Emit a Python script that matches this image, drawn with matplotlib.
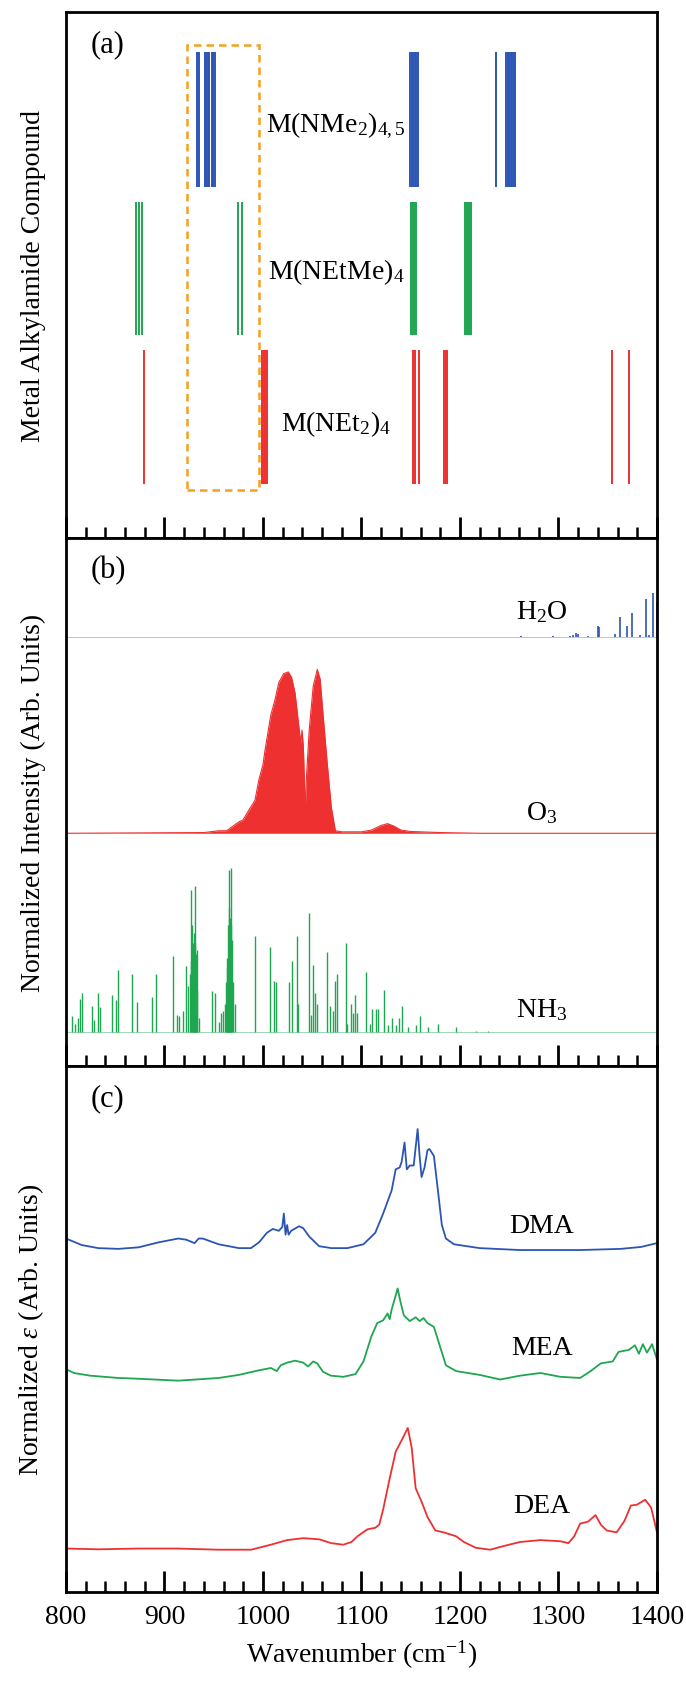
import matplotlib
matplotlib.use('Agg')
import matplotlib.pyplot as plt
from matplotlib.patches import Rectangle
from matplotlib.ticker import MultipleLocator

plt.rcParams['font.family'] = ['Liberation Serif', 'DejaVu Serif']
plt.rcParams['mathtext.fontset'] = 'custom'
plt.rcParams['mathtext.rm'] = 'Liberation Serif'
plt.rcParams['mathtext.it'] = 'Liberation Serif:italic'
plt.rcParams['mathtext.bf'] = 'Liberation Serif:bold'

BLUE = '#2c55b3'
GREEN = '#1fa650'
RED = '#ee3030'
ORANGE = '#f5a020'

# (a) calculated mode positions, cm-1
nme2_modes = [932.5, 935, 941, 942.5, 944, 945.5, 948, 949.5, 951,
              1149.5, 1151, 1152.5, 1154, 1155.5, 1157,
              1236.7, 1247, 1248.5, 1250, 1251.5, 1253, 1254.5, 1256]
netme_modes = [871.5, 874, 877, 974.5, 978.5,
               1150.5, 1152, 1153.5, 1155,
               1205.5, 1207, 1208.5, 1210, 1211.5]
net2_modes = [879.6, 999.5, 1001, 1002.5, 1004,
              1152.5, 1154, 1158, 1184, 1185.5, 1187, 1354.3, 1371.4]
compound_names = ['M(NMe$_2$)$_{4,5}$', 'M(NEtMe)$_4$', 'M(NEt$_2$)$_4$']
window = [923.3, 995.9]

# (b) reference gas spectra (arb. units)
h2o_wn = [1165, 1180, 1212, 1238, 1250, 1262, 1294, 1312, 1315, 1318, 1320, 1330,
          1340, 1341.5, 1357, 1362.4, 1369.4, 1374.3, 1383, 1388.6, 1392, 1396, 1400]
h2o_int = [0.2, 0.2, 0.2, 0.2, 0.2, 0.3, 0.3, 0.4, 0.6, 1.3, 1.0, 0.5,
           3.1, 2.8, 0.8, 5.8, 3.3, 6.8, 0.6, 10.8, 0.6, 12.3, 9.8]

o3_wn = [800, 940, 955, 963, 975.5, 979.6, 985, 991.8, 996, 1000, 1002, 1008, 1012,
         1016, 1021, 1025.7, 1029, 1032.6, 1036.7, 1038.5, 1039.6, 1041, 1042.9, 1044,
         1047, 1051, 1055.1, 1058, 1061, 1065, 1069.4, 1073.5, 1080, 1100, 1110, 1120,
         1126.5, 1133, 1140, 1150, 1180, 1220, 1400]
o3_int = [0.0, 0.2, 0.7, 0.7, 3.2, 3.7, 6.2, 9.2, 15.2, 19.2, 23.2, 33.2, 37.2,
          42.2, 44.7, 45.2, 43.7, 39.2, 29.2, 25.2, 28.9, 24.2, 6.2, 15.2,
          29.2, 41.2, 45.9, 43.2, 33.2, 20.2, 7.2, 0.7, 0.4, 0.4, 0.9, 2.2,
          2.7, 2.0, 0.9, 0.5, 0.2, 0.0, 0.0]

nh3_wn = [806.1, 809.0, 812.2, 814.3, 816.3, 826.5, 828.6, 832.7, 834.7, 846.9, 851.0,
          853.1, 867.3, 872.2, 887.8, 891.8, 908.2, 912.2, 914.3, 918.4, 921.6, 923.7,
          925.7, 926.5, 927.3, 927.8, 928.5, 929.0, 929.8, 930.0, 930.6, 931.0, 931.5,
          932.0, 932.7, 933.5, 934.7, 948.2, 951.0, 955.0, 957.1, 959.2, 961.2, 962.3,
          963.3, 963.8, 964.3, 964.8, 965.3, 965.8, 966.3, 966.8, 967.3, 967.8, 968.2,
          969.2, 971.4, 991.8, 1007.3, 1011.4, 1013.1, 1026.9, 1029.4, 1034.3, 1035.5,
          1046.9, 1049.0, 1051.0, 1053.1, 1055.1, 1065.3, 1068.2, 1071.4, 1073.5, 1075.5,
          1084.5, 1085.7, 1089.0, 1091.8, 1093.9, 1095.9, 1104.1, 1108.2, 1110.2, 1114.3,
          1117.1, 1122.4, 1126.5, 1130.6, 1134.7, 1137.6, 1140.8, 1146.9, 1155.1, 1159.2,
          1167.3, 1177.6, 1195.9, 1216.3, 1228.6]
nh3_int = [4.5, 2.5, 4.0, 9.5, 11.0, 7.5, 3.5, 11.0, 7.0, 10.5, 9.0,
           17.5, 16.5, 8.5, 10.0, 16.5, 21.5, 5.0, 4.5, 6.0, 18.5, 13.0,
           16.5, 20.0, 40.0, 30.0, 22.0, 25.0, 23.0, 28.0, 41.0, 25.0, 21.0,
           22.0, 23.0, 12.0, 4.0, 11.5, 11.0, 3.0, 5.5, 6.0, 8.0, 14.0,
           21.0, 18.0, 20.0, 30.0, 45.5, 35.0, 25.0, 32.0, 46.0, 30.0, 26.0,
           14.0, 8.0, 27.0, 24.0, 14.5, 14.0, 14.0, 20.0, 27.0, 8.0,
           33.5, 5.0, 19.0, 11.0, 8.0, 22.5, 7.5, 6.0, 14.5, 16.5,
           25.0, 2.5, 8.0, 5.5, 10.5, 5.5, 17.0, 2.5, 6.5, 6.5,
           6.5, 12.0, 2.0, 4.0, 2.0, 4.0, 7.5, 1.5, 2.0, 4.5,
           1.5, 2.5, 1.5, 0.5, 0.5]

# (c) measured absorption cross sections (arb. units, stacked)
dma_wn = [800, 816, 832.7, 853, 873.5, 894, 914, 922, 928.6, 930.6, 934.7, 938.8, 955,
          975.5, 987.8, 996, 1004, 1010, 1016, 1019.6, 1021.2, 1022.9, 1024.5, 1026,
          1028.6, 1036.7, 1040.8, 1047, 1057, 1069.4, 1085.7, 1102, 1114, 1122, 1130.6,
          1134.7, 1138.8, 1140.8, 1143.7, 1146, 1149, 1153, 1157, 1159, 1161, 1164,
          1167, 1169, 1173.5, 1177.6, 1181.6, 1185.7, 1193.9, 1220, 1261, 1322, 1363,
          1383.7, 1400]
dma_eps = [92.0, 90.3, 89.5, 89.3, 89.7, 91.0, 92.0, 91.7, 91.0, 90.8, 92.0, 92.0, 90.5,
           89.5, 89.5, 91.0, 93.5, 94.5, 94.0, 95.0, 98.5, 93.0, 95.5, 93.0,
           94.0, 95.2, 94.7, 92.5, 90.0, 89.5, 89.5, 90.5, 93.5, 98.5, 104.5,
           110.0, 110.5, 112.0, 117.0, 110.0, 111.0, 111.0, 120.5, 113.5, 108.0, 110.5,
           115.0, 115.3, 113.5, 104.5, 95.5, 92.0, 90.5, 89.5, 89.0, 89.0, 89.3,
           89.8, 90.8]

mea_wn = [800, 808, 824.5, 853, 873.5, 914, 955, 975.5, 996, 1008, 1014, 1018, 1024.5,
          1032.6, 1040.8, 1045.7, 1051, 1055, 1061, 1069, 1081.6, 1093.9, 1102, 1110,
          1116, 1122, 1126.5, 1128.6, 1130.6, 1134, 1136.7, 1139.6, 1143, 1149, 1155,
          1159, 1163, 1167, 1173.5, 1179.6, 1185.7, 1196, 1220, 1240.8, 1261, 1281.6,
          1302, 1322, 1332.7, 1343, 1355, 1361, 1371.4, 1377.6, 1381.6, 1385.7, 1389.8,
          1395, 1400]
mea_eps = [58.0, 57.0, 56.3, 55.7, 55.5, 55.0, 55.7, 56.5, 57.7, 58.3, 57.5, 59.0, 59.7,
           60.2, 59.7, 58.7, 60.0, 59.5, 57.3, 56.3, 56.0, 56.7, 60.0, 66.5,
           70.0, 70.7, 72.5, 71.0, 73.5, 76.5, 79.0, 75.5, 72.0, 70.5, 71.5,
           70.5, 71.3, 70.0, 69.0, 64.0, 59.0, 57.5, 56.5, 55.3, 56.3, 57.0,
           56.0, 55.7, 57.5, 59.5, 60.0, 62.5, 63.0, 64.2, 62.0, 64.5, 62.3,
           64.5, 60.5]

dea_wn = [800, 832.7, 873.5, 914, 955, 988, 1008, 1024.5, 1040.8, 1057, 1069.4, 1081.6,
          1089.8, 1096, 1106, 1114, 1118, 1122, 1128.6, 1134.7, 1140.8, 1147, 1151, 1155,
          1161, 1167, 1175, 1183.7, 1196, 1204, 1216, 1230.6, 1245, 1261, 1281.6, 1302,
          1310, 1316, 1322, 1330, 1337.6, 1343, 1349, 1359, 1367, 1373.5, 1379.6, 1388,
          1394, 1400]
dea_eps = [11.3, 11.1, 11.3, 11.3, 11.0, 11.0, 12.3, 13.5, 14.0, 13.7, 12.7, 12.3,
           13.0, 14.5, 16.3, 16.7, 17.5, 21.5, 29.5, 36.5, 39.5, 42.7, 37.5, 27.0,
           23.5, 19.5, 16.0, 15.5, 14.5, 13.0, 11.5, 11.0, 12.0, 13.0, 13.5, 13.2,
           12.7, 14.5, 17.8, 18.3, 20.0, 17.5, 16.0, 15.5, 18.5, 22.5, 22.7, 24.0,
           22.0, 15.5]


def style_axis(ax, label, ylabel, ytop, show_x=False):
    ax.set_xlim(800, 1400)
    ax.set_ylim(0, ytop)
    ax.set_yticks([])
    ax.xaxis.set_major_locator(MultipleLocator(100))
    ax.xaxis.set_minor_locator(MultipleLocator(20))
    ax.tick_params(axis='x', which='major', direction='in', length=15, width=2,
                   labelsize=20, pad=9, top=False, labelbottom=show_x)
    ax.tick_params(axis='x', which='minor', direction='in', length=8, width=1.8, top=False)
    for s in ax.spines.values():
        s.set_linewidth(2)
    ax.set_ylabel(ylabel, fontsize=20)
    ax.yaxis.set_label_coords(-0.034, 0.5)
    ax.text(0.041, 0.94, label, transform=ax.transAxes, fontsize=22, va='center', ha='left')


fig = plt.figure(figsize=(6.86, 16.83), dpi=100)
ax_a = fig.add_axes([0.0962, 0.6797, 0.8615, 0.3126])
ax_b = fig.add_axes([0.0962, 0.3660, 0.8615, 0.3137])
ax_c = fig.add_axes([0.0962, 0.0535, 0.8615, 0.3125])

# panel (a)
rows = [(nme2_modes, BLUE, 101.8, 140.8, 117.8),
        (netme_modes, GREEN, 58.8, 97.5, 75.3),
        (net2_modes, RED, 15.8, 54.5, 31.3)]
for (modes, col, lo, hi, ty), name in zip(rows, compound_names):
    ax_a.vlines(modes, lo, hi, colors=col, lw=1.4)
    ax_a.text(1074, ty, name, fontsize=20, ha='center', va='baseline')
ax_a.add_patch(Rectangle((window[0], 13.8), window[1] - window[0], 143.0 - 13.8,
                         fill=False, ec=ORANGE, lw=1.8, ls=(0, (3, 2))))
style_axis(ax_a, '(a)', 'Metal Alkylamide Compound', 152.5)

# panel (b)
h2o_base, o3_base, nh3_base = 120.1, 65.2, 9.4
ax_b.axhline(h2o_base, color=BLUE, lw=0.6, alpha=0.4)
ax_b.vlines(h2o_wn, h2o_base, [h2o_base + v for v in h2o_int], colors=BLUE, lw=1.2)
ax_b.fill_between(o3_wn, o3_base, [o3_base + v for v in o3_int], color=RED, lw=0)
ax_b.plot(o3_wn, [o3_base + v for v in o3_int], color=RED, lw=0.8)
ax_b.axhline(nh3_base, color=GREEN, lw=0.6, alpha=0.5)
ax_b.vlines(nh3_wn, nh3_base, [nh3_base + v for v in nh3_int], colors=GREEN, lw=1.0)
ax_b.text(1283, 125.6, 'H$_2$O', fontsize=20, ha='center', va='baseline')
ax_b.text(1283, 69.2, 'O$_3$', fontsize=20, ha='center', va='baseline')
ax_b.text(1283, 13.9, 'NH$_3$', fontsize=20, ha='center', va='baseline')
style_axis(ax_b, '(b)', 'Normalized Intensity (Arb. Units)', 147.9)

# panel (c)
ax_c.plot(dma_wn, dma_eps, color=BLUE, lw=1.3)
ax_c.plot(mea_wn, mea_eps, color=GREEN, lw=1.3)
ax_c.plot(dea_wn, dea_eps, color=RED, lw=1.3)
ax_c.text(1283, 93.7, 'DMA', fontsize=20, ha='center', va='baseline')
ax_c.text(1283, 62.0, 'MEA', fontsize=20, ha='center', va='baseline')
ax_c.text(1283, 20.7, 'DEA', fontsize=20, ha='center', va='baseline')
style_axis(ax_c, '(c)', r'Normalized $\mathit{\varepsilon}$ (Arb. Units)', 136.9, show_x=True)
ax_c.set_xlabel('Wavenumber (cm$^{-1}$)', fontsize=20, labelpad=6)

fig.savefig('out.png', dpi=100)
